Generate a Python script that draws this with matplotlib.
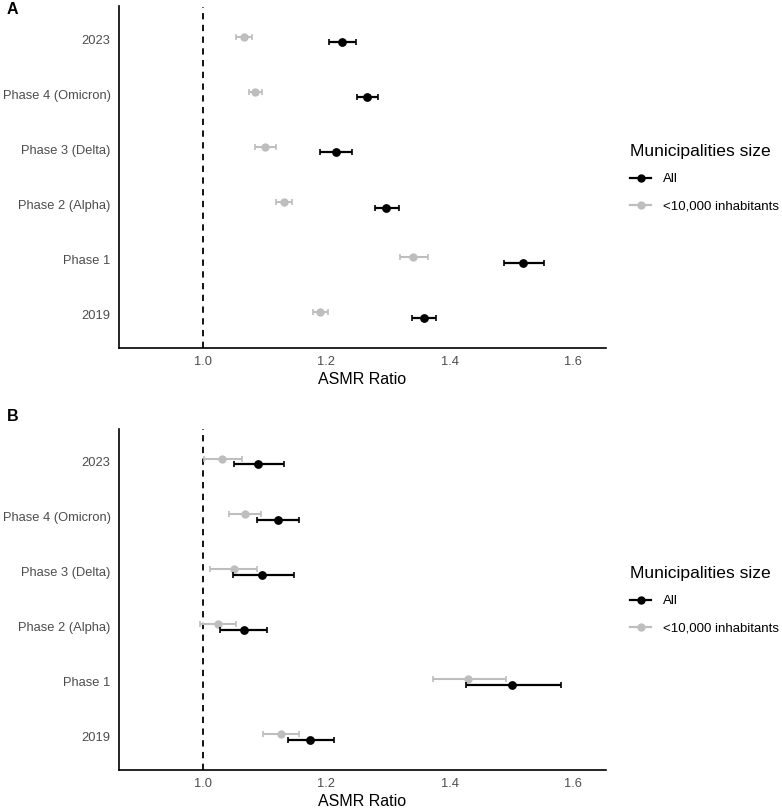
import matplotlib
matplotlib.use("Agg")
import matplotlib.pyplot as plt
from matplotlib.lines import Line2D

plt.rcParams['font.family'] = ['Liberation Sans', 'DejaVu Sans']

categories = ["2019", "Phase 1", "Phase 2 (Alpha)", "Phase 3 (Delta)", "Phase 4 (Omicron)", "2023"]

# Panel A
a_all = [1.358, 1.519, 1.297, 1.215, 1.2655, 1.226]
a_all_lo = [1.338, 1.488, 1.278, 1.190, 1.249, 1.2045]
a_all_hi = [1.378, 1.552, 1.317, 1.241, 1.283, 1.248]
a_small = [1.190, 1.341, 1.131, 1.101, 1.085, 1.066]
a_small_lo = [1.178, 1.319, 1.118, 1.085, 1.074, 1.053]
a_small_hi = [1.203, 1.364, 1.145, 1.119, 1.096, 1.080]

# Panel B
b_all = [1.174, 1.501, 1.066, 1.096, 1.121, 1.089]
b_all_lo = [1.137, 1.426, 1.028, 1.049, 1.088, 1.050]
b_all_hi = [1.213, 1.580, 1.104, 1.147, 1.155, 1.131]
b_small = [1.127, 1.430, 1.024, 1.050, 1.068, 1.031]
b_small_lo = [1.098, 1.372, 0.995, 1.012, 1.043, 1.001]
b_small_hi = [1.156, 1.491, 1.053, 1.087, 1.094, 1.063]

x_ticks = [1.0, 1.2, 1.4, 1.6]
legend_title = "Municipalities size"
series_labels = ["All", "<10,000 inhabitants"]

BLACK = "#000000"
GRAY = "#BEBEBE"

W, H = 782, 808
fig = plt.figure(figsize=(W / 100, H / 100), dpi=100)


def px_axes(left, top, right, bottom):
    return fig.add_axes([left / W, 1 - bottom / H, (right - left) / W, (bottom - top) / H])


def draw_panel(ax, allv, alllo, allhi, sm, smlo, smhi, label, legend_top):
    ys = list(range(len(categories)))
    ax.axvline(1.0, color="black", linestyle=(0, (3.5, 3)), linewidth=1.3, zorder=1)
    y_sm = [y + 0.05 for y in ys]
    y_all = [y - 0.05 for y in ys]
    ax.errorbar(sm, y_sm, xerr=[[s - l for s, l in zip(sm, smlo)], [h - s for s, h in zip(sm, smhi)]],
                fmt="o", color=GRAY, ecolor=GRAY, markersize=5, elinewidth=1.5, capsize=2.0,
                capthick=1.2, zorder=3)
    ax.errorbar(allv, y_all, xerr=[[s - l for s, l in zip(allv, alllo)], [h - s for s, h in zip(allv, allhi)]],
                fmt="o", color=BLACK, ecolor=BLACK, markersize=5.3, elinewidth=1.6, capsize=2.0,
                capthick=1.2, zorder=4)
    ax.set_xlim(0.864, 1.653)
    ax.set_ylim(-0.6, len(categories) - 0.4)
    ax.set_yticks(ys)
    ax.set_yticklabels(categories)
    ax.set_xticks(x_ticks)
    ax.set_xticklabels([f"{t:.1f}" for t in x_ticks])
    ax.tick_params(axis="both", length=0, labelsize=9.3, labelcolor="#4D4D4D", pad=6)
    ax.set_xlabel("ASMR Ratio", fontsize=11.5, labelpad=3)
    for s in ["top", "right"]:
        ax.spines[s].set_visible(False)
    for s in ["left", "bottom"]:
        ax.spines[s].set_linewidth(1.2)
    fig.text(7 / W, 1 - label[1] / H, label[0], fontsize=11.5, fontweight="bold", va="center", ha="left")
    handles = [Line2D([0], [0], color=BLACK, marker="o", markersize=5, linewidth=1.6),
               Line2D([0], [0], color=GRAY, marker="o", markersize=5, linewidth=1.6)]
    leg = ax.legend(handles, series_labels, title=legend_title, loc="upper left",
                    bbox_to_anchor=(625 / W, 1 - legend_top / H), bbox_transform=fig.transFigure,
                    frameon=False, fontsize=9.5, title_fontsize=12.6, handlelength=1.6,
                    handletextpad=0.85, labelspacing=1.1, alignment="left", borderaxespad=0)
    leg._legend_box.sep = 10
    return leg


axA = px_axes(119, 6.5, 606, 348)
draw_panel(axA, a_all, a_all_lo, a_all_hi, a_small, a_small_lo, a_small_hi, ("A", 10), 139)
axB = px_axes(119, 428.7, 606, 770)
draw_panel(axB, b_all, b_all_lo, b_all_hi, b_small, b_small_lo, b_small_hi, ("B", 416.5), 561)

fig.savefig("out.png", dpi=100)
